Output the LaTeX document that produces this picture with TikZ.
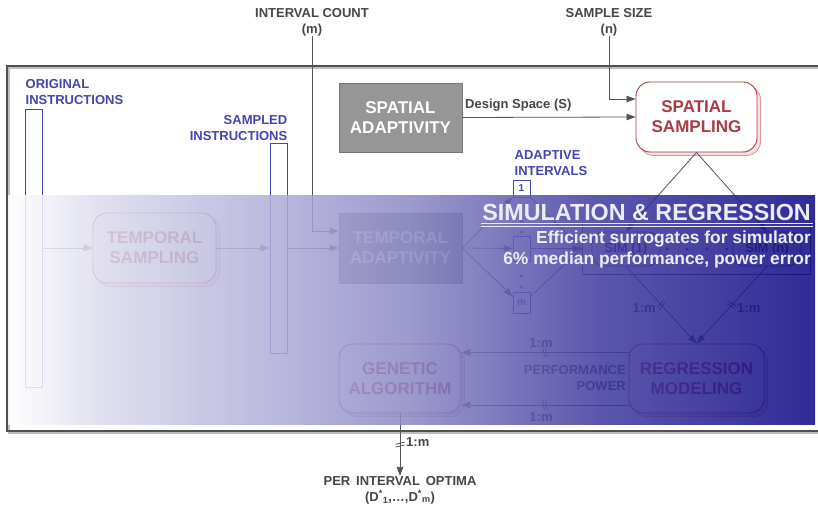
\documentclass[tikz,border=0pt]{standalone}
\usepackage{fontspec}
\setmainfont{Liberation Sans}
\usetikzlibrary{arrows.meta,shadows}

\definecolor{linegray}{RGB}{85,85,85}
\definecolor{labgray}{RGB}{70,70,70}
\definecolor{framegray}{RGB}{80,80,80}
\definecolor{framelight}{RGB}{190,190,190}
\definecolor{instblue}{RGB}{68,68,178}
\definecolor{boxred}{RGB}{172,58,68}
\definecolor{shadowpink}{RGB}{243,224,226}
\definecolor{shadowedge}{RGB}{218,155,162}
\definecolor{adaptfill}{RGB}{150,150,150}
\definecolor{adaptedge}{RGB}{118,118,118}
\definecolor{bandtext}{RGB}{236,236,248}
% colour stops of the band behind "simulation & regression"
\definecolor{bandA}{RGB}{218,218,237}
\definecolor{bandB}{RGB}{140,137,198}
\definecolor{bandC}{RGB}{66,60,160}
\definecolor{bandD}{RGB}{14,8,132}
\pgfdeclarehorizontalshading{bandshade}{100bp}{color(0bp)=(white); color(25bp)=(white);
  color(31bp)=(bandA); color(50bp)=(bandB); color(61.5bp)=(bandC); color(75bp)=(bandD); color(100bp)=(bandD)}

\newcommand{\mysize}[2]{\fontsize{#1bp}{#2bp}\selectfont\bfseries}

\tikzset{
  conn/.style={draw=linegray, line width=0.8bp},
  arr/.style={conn, -{Triangle[length=9bp,width=6.5bp]}},
  toplabel/.style={align=center, text=labgray, font=\mysize{13}{16}, inner sep=0pt},
  bluelabel/.style={text=instblue, font=\mysize{13}{16}, inner sep=0pt},
  instbar/.style={draw=instblue, fill=white, line width=0.8bp, minimum width=17bp, inner sep=0pt},
  redbox/.style={draw=boxred, fill=white, text=boxred, line width=0.9bp,
    rounded corners=14bp, align=center, font=\mysize{17}{20}, inner sep=0pt,
    copy shadow={shadow xshift=3.5bp, shadow yshift=-3.5bp, fill=shadowpink, draw=shadowedge}},
  adaptbox/.style={draw=adaptedge, fill=adaptfill, text=white, align=center,
    font=\mysize{17}{20}, inner sep=0pt, line width=0.8bp},
  ivbox/.style={draw=instblue, fill=white, text=instblue, minimum width=17bp,
    inner sep=0pt, font=\mysize{10}{10}, line width=0.8bp},
  simnode/.style={draw=linegray, fill=white, text=labgray, rounded corners=12bp,
    minimum width=68bp, minimum height=34bp, inner sep=0pt, font=\mysize{13}{13}, line width=0.8bp},
  ratio/.style={text=labgray, font=\mysize{13}{16}, inner sep=0pt},
  bandlabel/.style={text=bandtext, inner sep=0pt, anchor=base east},
  brk/.pic={\draw[-, draw=linegray, line width=0.8bp] (-2.4,-4.5) -- (-0.4,4.5) (0.4,-4.5) -- (2.4,4.5);}
}

\begin{document}
\begin{tikzpicture}[x=1bp, y=-1bp]
\useasboundingbox (0,0) rectangle (818,506);
\clip (0,0) rectangle (818,506);
\fill[white] (0,0) rectangle (818,506);

% outer frame (open towards the right)
\draw[framelight, line width=1.2bp] (830,68) -| (9,433) -- (830,433);
\draw[framegray, line width=1.8bp] (830,66) -| (7,431) -- (830,431);

% parameters entering from above
\node[toplabel] (icount) at (312,22) {INTERVAL COUNT\\(m)};
\node[toplabel] (ssize) at (609,22) {SAMPLE SIZE\\(n)};

% instruction streams
\node[instbar, minimum height=278bp] (orig) at (33.5,248) {};
\node[bluelabel, anchor=west, align=left] (origlab) at (25.5,92) {ORIGINAL\\INSTRUCTIONS};
\node[instbar, minimum height=210bp] (samp) at (278.5,248) {};
\node[bluelabel, anchor=east, align=right] (samplab) at (287.5,128) {SAMPLED\\INSTRUCTIONS};

% main blocks
\node[redbox, minimum width=123bp, minimum height=70bp] (tsamp) at (154.5,248) {TEMPORAL\\SAMPLING};
\node[adaptbox, minimum width=123bp, minimum height=70bp] (tadapt) at (400.5,248) {TEMPORAL\\ADAPTIVITY};
\node[adaptbox, minimum width=123bp, minimum height=69bp] (sadapt) at (400.5,117.5) {SPATIAL\\ADAPTIVITY};
\node[redbox, minimum width=121bp, minimum height=70bp] (ssamp) at (696.5,117) {SPATIAL\\SAMPLING};
\node[redbox, minimum width=122bp, minimum height=69bp] (gen) at (400,378.5) {GENETIC\\ALGORITHM};
\node[redbox, minimum width=135bp, minimum height=69bp] (regr) at (696.5,378.5) {REGRESSION\\MODELING};

% adaptive intervals
\node[bluelabel, anchor=west, align=left] (ivlab) at (514.5,163) {ADAPTIVE\\INTERVALS};
\node[ivbox, minimum height=17bp] (iv1) at (521.5,188.5) {1};
\node[ivbox, minimum height=25bp] (ivi) at (521.5,248.5) {};
\node[ivbox, minimum height=21bp] (ivm) at (521.5,302.5) {m};
\foreach \yy in {221,232,276,287} \fill[instblue] (521.5,\yy) circle (1.6bp);

% simulations
\node[draw=linegray, line width=0.8bp, minimum width=228bp, minimum height=51bp, inner sep=0pt] (simall) at (696,248.5) {};
\node[simnode] (sim1) at (626,249) {SIM (1)};
\node[simnode] (simn) at (767,249) {SIM (n)};
\foreach \xx in {667,687,707,727} \fill[linegray] (\xx,249) circle (1.6bp);

% connectors
\draw[arr] (icount.south) |- ([yshift=17bp]tadapt.west);
\draw[arr] (ssize.south) |- ([yshift=18bp]ssamp.west);
\draw[arr] (sadapt.east) -- (ssamp.west);
\node[ratio, anchor=west] (dslab) at (465,105) {Design Space (S)};

\draw[arr] (orig.east) -- (tsamp.west);
\draw[arr] (tsamp.east) -- (samp.west);
\draw[arr] (samp.east) -- (tadapt.west);

\draw[arr] (tadapt.east) -- (iv1.south west);
\draw[arr] (tadapt.east) -- (ivi.west);
\draw[arr] (tadapt.east) -- ([yshift=6bp]ivm.west);
\draw[conn] (iv1.south east) -- (simall.west);
\draw[arr] (ivi.east) -- (simall.west);
\draw[conn] ([yshift=6bp]ivm.east) -- (simall.west);

\draw[arr] (ssamp.south) -- (sim1.north);
\draw[arr] (ssamp.south) -- (simn.north);
\draw[arr] (sim1.south) -- (regr.north) pic[pos=0.5, sloped] {brk};
\draw[arr] (simn.south) -- (regr.north) pic[pos=0.5, sloped] {brk};
\node[ratio, anchor=east] (r1) at (656,308) {1:m};
\node[ratio, anchor=west] (r2) at (737,308) {1:m};

\draw[arr] ([yshift=26bp]regr.west) -- ([yshift=26bp]gen.east) pic[pos=0.5, sloped] {brk};
\draw[arr] ([yshift=-26.5bp]regr.west) -- ([yshift=-26.5bp]gen.east) pic[pos=0.5, sloped] {brk};
\node[ratio] (r3) at (541,343) {1:m};
\node[ratio] (r4) at (541,417) {1:m};
\node[ratio, anchor=east, align=right] (perf) at (626,378) {PERFORMANCE\\POWER};

% result
\node[toplabel] (optima) at (400,490) {PER\hspace{0.45em}INTERVAL\hspace{0.45em}OPTIMA\\(D\textsuperscript{*}\textsubscript{1},\ldots,D\textsuperscript{*}\textsubscript{m})};
\draw[arr] (gen.south) -- (optima.north) pic[pos=0.5, sloped] {brk};
\node[ratio, anchor=west] (r5) at (406,442) {1:m};

% simulation & regression band
\shade[shading=bandshade, opacity=0.86] (8,196) rectangle (815,424);
\node[bandlabel, font=\mysize{23.3}{23.3}] (title) at (811,220.5) {SIMULATION \& REGRESSION};
\draw[bandtext, line width=0.7bp] (481,223.5) -- (813,223.5) (481,226.5) -- (813,226.5);
\node[bandlabel, font=\mysize{17.4}{17.4}] (sub1) at (811,243.5) {Efficient surrogates for simulator};
\node[bandlabel, font=\mysize{17.4}{17.4}] (sub2) at (811,264.5) {6\% median performance, power error};
\end{tikzpicture}
\end{document}
